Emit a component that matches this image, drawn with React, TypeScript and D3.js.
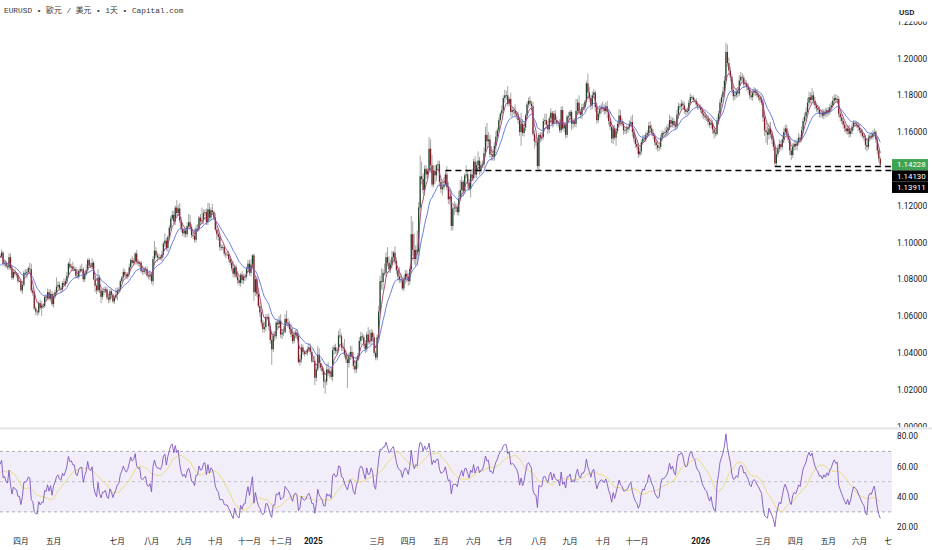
import React from "react";
import * as d3 from "d3";

// ---- DATA (EURUSD daily) ----
const firstOpen = 1.0850;
// closes, one line per month (weekdays)
const closes = [
  // 2024-01-29 .. 2024-03-08 (warm-up, left of the visible area)
  1.0835,1.0845,1.0820,1.0875,1.0790, 1.0745,1.0755,1.0770,1.0780,1.0785, 1.0770,1.0710,1.0730,1.0770,1.0775, 1.0780,1.0810,1.0820,1.0825,1.0820, 1.0850,1.0845,1.0840,1.0805,1.0840, 1.0855,1.0855,1.0900,1.0950,1.0940,
  // 2024-03 (from 11th)
  1.0925,1.0925,1.0945,1.0885,1.0890, 1.0870,1.0865,1.0920,1.0860,1.0808, 1.0840,1.0830,1.0825,1.0790,1.0790,
  // 2024-04
  1.0740,1.0770,1.0835,1.0835,1.0840, 1.0860,1.0855,1.0740,1.0725,1.0642, 1.0625,1.0620,1.0670,1.0645,1.0655, 1.0655,1.0705,1.0700,1.0730,1.0695, 1.0720,1.0665,
  // 2024-05
  1.0710,1.0730,1.0760, 1.0770,1.0750,1.0745,1.0780,1.0770, 1.0790,1.0820,1.0885,1.0865,1.0870, 1.0855,1.0855,1.0820,1.0815,1.0845, 1.0855,1.0855,1.0800,1.0830,1.0850,
  // 2024-06
  1.0905,1.0875,1.0870,1.0890,1.0800, 1.0765,1.0740,1.0810,1.0740,1.0705, 1.0735,1.0735,1.0745,1.0700,1.0690, 1.0735,1.0715,1.0680,1.0700,1.0715,
  // 2024-07
  1.0740,1.0745,1.0790,1.0810,1.0840, 1.0825,1.0815,1.0830,1.0865,1.0905, 1.0890,1.0900,1.0940,1.0895,1.0885, 1.0890,1.0845,1.0840,1.0850,1.0855, 1.0820,1.0815,1.0825,
  // 2024-08
  1.0790,1.0910, 1.0955,1.0930,1.0920,1.0920,1.0915, 1.0935,1.0995,1.1010,1.0970,1.1030, 1.1080,1.1130,1.1150,1.1115,1.1190, 1.1160,1.1185,1.1120,1.1075,1.1050,
  // 2024-09
  1.1065,1.1045,1.1090,1.1110,1.1085, 1.1040,1.1035,1.1015,1.1075,1.1075, 1.1135,1.1115,1.1120,1.1160,1.1165, 1.1110,1.1180,1.1135,1.1175,1.1165, 1.1135,
  // 2024-10
  1.1070,1.1045,1.1030,1.0975, 1.0975,1.0975,1.0940,1.0935,1.0935, 1.0910,1.0890,1.0860,1.0830,1.0865, 1.0815,1.0795,1.0780,1.0825,1.0795, 1.0815,1.0815,1.0855,1.0885,
  // 2024-11
  1.0835, 1.0880,1.0930,1.0730,1.0800,1.0720, 1.0655,1.0620,1.0565,1.0530,1.0540, 1.0595,1.0595,1.0545,1.0470,1.0420, 1.0495,1.0490,1.0565,1.0555,1.0575,
  // 2024-12
  1.0500,1.0510,1.0515,1.0585,1.0565, 1.0555,1.0530,1.0500,1.0465,1.0500, 1.0510,1.0490,1.0350,1.0365,1.0430, 1.0405,1.0395,1.0400,1.0420,1.0430, 1.0405,1.0355,
  // 2025-01
  1.0355,1.0265,1.0310, 1.0390,1.0345,1.0320,1.0300,1.0245, 1.0245,1.0310,1.0290,1.0300,1.0270, 1.0415,1.0430,1.0410,1.0415,1.0495, 1.0490,1.0430,1.0425,1.0390,1.0365,
  // 2025-02
  1.0345,1.0380,1.0405,1.0380,1.0330, 1.0310,1.0360,1.0385,1.0465,1.0490, 1.0485,1.0450,1.0420,1.0500,1.0460, 1.0465,1.0510,1.0485,1.0400,1.0375,
  // 2025-03
  1.0485,1.0625,1.0790,1.0785,1.0835, 1.0835,1.0920,1.0890,1.0855,1.0880, 1.0920,1.0945,1.0900,1.0850,1.0815, 1.0800,1.0795,1.0750,1.0800,1.0830, 1.0815,
  // 2025-04
  1.0790,1.0855,1.1045,1.0960, 1.0910,1.0960,1.0950,1.1190,1.1360, 1.1345,1.1285,1.1400,1.1370,1.1390, 1.1510,1.1420,1.1315,1.1390,1.1365, 1.1420,1.1425,1.1330,
  // 2025-05
  1.1290,1.1300, 1.1315,1.1370,1.1300,1.1235,1.1250, 1.1090,1.1185,1.1190,1.1190,1.1165, 1.1240,1.1285,1.1330,1.1280,1.1365, 1.1370,1.1325,1.1290,1.1370,1.1350,
  // 2025-06
  1.1440,1.1370,1.1420,1.1445,1.1395, 1.1420,1.1425,1.1485,1.1585,1.1550, 1.1560,1.1480,1.1480,1.1465,1.1525, 1.1575,1.1610,1.1665,1.1700,1.1720, 1.1785,
  // 2025-07
  1.1800,1.1800,1.1755,1.1780, 1.1710,1.1720,1.1715,1.1700,1.1690, 1.1665,1.1600,1.1645,1.1595,1.1625, 1.1690,1.1750,1.1770,1.1755,1.1740, 1.1590,1.1550,1.1545,1.1415,
  // 2025-08
  1.1585, 1.1570,1.1575,1.1660,1.1665,1.1640, 1.1615,1.1675,1.1705,1.1645,1.1700, 1.1665,1.1650,1.1650,1.1610,1.1720, 1.1620,1.1640,1.1585,1.1685,1.1685,
  // 2025-09
  1.1710,1.1645,1.1660,1.1645,1.1715, 1.1760,1.1710,1.1695,1.1735,1.1735, 1.1765,1.1865,1.1815,1.1785,1.1745, 1.1800,1.1815,1.1735,1.1665,1.1700, 1.1725,1.1735,
  // 2025-10
  1.1730,1.1715,1.1740, 1.1710,1.1660,1.1630,1.1565,1.1620, 1.1570,1.1605,1.1645,1.1690,1.1655, 1.1645,1.1610,1.1610,1.1615,1.1625, 1.1645,1.1655,1.1600,1.1565,1.1535,
  // 2025-11
  1.1520,1.1480,1.1495,1.1545,1.1565, 1.1560,1.1585,1.1595,1.1635,1.1620, 1.1595,1.1580,1.1545,1.1530,1.1515, 1.1520,1.1570,1.1595,1.1595,1.1600,
  // 2025-12
  1.1610,1.1625,1.1665,1.1645,1.1660, 1.1640,1.1630,1.1695,1.1740,1.1740, 1.1755,1.1745,1.1720,1.1710,1.1715, 1.1760,1.1790,1.1790,1.1775,1.1770, 1.1750,1.1740,1.1735,
  // 2026-01
  1.1720,1.1700, 1.1690,1.1680,1.1675,1.1655,1.1640, 1.1650,1.1615,1.1595,1.1590,1.1660, 1.1700,1.1760,1.1790,1.1820,1.1880, 1.2035,1.1975,1.1935,1.1900,1.1830,
  // 2026-02
  1.1795,1.1800,1.1820,1.1810,1.1880, 1.1900,1.1895,1.1860,1.1865,1.1845, 1.1830,1.1800,1.1790,1.1815,1.1825, 1.1815,1.1800,1.1790,1.1775,1.1760,
  // 2026-03
  1.1680,1.1610,1.1600,1.1585,1.1620, 1.1590,1.1560,1.1520,1.1430,1.1480, 1.1510,1.1535,1.1520,1.1560,1.1600, 1.1620,1.1590,1.1560,1.1500,1.1475, 1.1520,1.1535,
  // 2026-04
  1.1525,1.1545,1.1570, 1.1560,1.1610,1.1660,1.1685,1.1710, 1.1760,1.1790,1.1775,1.1800,1.1770, 1.1745,1.1730,1.1720,1.1700,1.1705, 1.1690,1.1710,1.1700,1.1720,
  // 2026-05
  1.1710, 1.1735,1.1745,1.1770,1.1785,1.1775, 1.1780,1.1700,1.1680,1.1660,1.1640, 1.1620,1.1605,1.1620,1.1590,1.1605, 1.1630,1.1650,1.1645,1.1640,1.1625,
  // 2026-06
  1.1610,1.1595,1.1580,1.1570,1.1530, 1.1520,1.1570,1.1580,1.1575,1.1590, 1.1600,1.1560,1.1500,1.1455,1.14228,
];

// upper wick above the body, in pips
const wickUp = [
  12,8,15,10,20, 9,12,8,10,7, 10,15,9,8,6, 8,10,12,14,9, 7,10,8,12,9, 11,10,14,13,15,
  10,12,18,8,10, 9,10,22,20,8, 12,15,9,10,5,
  15,10,12,20,15, 10,30,30,15,12, 12,10,10,20,25, 12,10,15,20,15, 25,15,
  15,12,50, 20,15,10,10,25, 15,20,10,30,12, 25,15,12,35,12, 20,30,12,15,30,
  10,12,15,25,10, 10,10,45,15,10, 10,25,15,12,15, 15,12,10,12,40,
  15,12,10,8,20, 15,12,10,20,10, 20,15,8,20,15, 10,10,30,15,15, 15,10,20,
  15,15, 53,20,15,20,12, 20,10,40,15,10, 15,15,25,20,12, 40,20,30,20,30,
  15,15,20,45,40, 15,20,40,20,25, 10,20,70,20,15, 20,35,34,15,35, 10,
  25,20,20,20, 15,12,15,15,15, 20,20,15,40,15, 15,20,15,10,20, 15,15,15,20,
  20, 30,7,10,5,15, 15,20,20,15,30, 15,15,20,15,45, 20,25,10,20,25,
  35,20,30,25,45, 25,20,30,35,20, 15,20,15,25,20, 15,10,5,15,25, 20,20,
  5,30,15, 47,35,20,15,20, 15,30,40,20,15, 20,15,20,15,25, 38,15,25,50,25,
  15,20,35,30,25, 20,20,15,20,25, 20,15,20,15,40, 60,20,15,20,10,
  15,30,30,70,20, 50,27,55,35,25, 35,10,35,20,15, 50,30,15,20,20, 20,
  20,15,99,70, 90,25,105,30,113, 80,30,20,20,15, 63,50,55,30,30, 5,20,20,
  15,30, 40,20,45,30,15, 30,15,35,25,20, 40,55,30,10,10, 50,20,20,15,30,
  15,30,20,50,20, 15,20,30,45,65, 40,25,45,30,20, 30,15,15,10,25, 15,
  30,25,50,10, 35,15,15,35,15, 20,15,60,25,35, 10,15,18,25,15, 25,20,30,25,
  10, 15,25,15,35,35, 20,15,25,10,15, 20,20,10,20,20, 20,15,15,10,25,
  10,10,15,15,65, 20,40,15,20,20, 10,15,53,30,15, 20,20,10,25,15, 20,20,
  30,20,20, 30,15,15,25,15, 20,20,15,35,30, 20,15,15,20,10, 20,30,40,20,20,
  20,20,20,15,20, 20,15,15,20,25, 20,20,15,15,20, 15,15,15,10,25,
  25,20,30,20,20, 15,20,25,20,15, 20,15,20,15,20, 15,20,10,10,10, 15,15,10,
  15,15, 15,20,15,15,20, 25,15,15,20,20, 15,20,15,25,25, 50,40,30,20,15,
  20,25,20,25,30, 27,20,15,20,15, 20,15,20,15,20, 15,20,15,15,20,
  20,20,40,35,30, 35,20,15,15,25, 20,25,20,20,25, 20,20,15,20,15, 20,20,
  20,20,25, 15,20,20,20,25, 25,30,25,40,20, 20,15,20,20,15, 20,15,20,15,
  15, 20,20,25,20,20, 20,15,15,20,15, 15,20,15,20,15, 20,15,15,15,15,
  20,15,20,15,15, 20,15,15,20,20, 20,10,15,15,12,
];

// lower wick below the body, in pips
const wickDown = [
  10,12,9,14,18, 12,7,10,9,11, 8,20,14,9,10, 9,8,10,12,15, 10,9,11,14,13, 9,12,8,10,12,
  12,9,10,15,12, 10,12,14,8,12, 9,10,15,12,6,
  10,20,10,15,30, 12,12,14,15,10, 20,19,12,12,45, 15,10,20,14,10, 15,10,
  20,15,15, 12,10,20,15,10, 10,15,12,10,20, 10,12,15,10,15, 12,10,15,15,12,
  15,10,10,15,5, 35,20,10,15,35, 15,20,10,12,20, 15,20,10,15,10,
  30,15,12,10,12, 15,10,15,15,15, 10,15,20,15,15, 20,10,15,15,20, 10,15,20,
  15,25, 25,15,25,15,10, 15,15,20,15,20, 10,15,10,15,20, 15,15,15,20,15,
  20,20,15,15,20, 15,15,15,15,15, 15,20,15,20,15, 15,15,15,20,15, 15,
  10,30,20,20, 20,15,15,20,10, 15,15,15,20,20, 10,20,15,20,20, 20,25,15,15,
  15, 20,20,47,20,15, 10,25,20,20,20, 20,20,25,20,85, 15,25,15,20,15,
  20,25,20,10,15, 20,20,15,15,15, 20,15,7,20,20, 15,15,5,15,15, 15,10,
  5,40,20, 10,25,15,20,35, 67,20,15,25,15, 25,25,15,20,15, 10,20,15,15,20,
  135,25,20,15,20, 20,20,45,15,20, 15,20,20,15,15, 15,20,25,15,15,
  15,10,10,40,45, 15,20,20,20,20, 20,20,20,20,20, 20,15,10,15,25, 30,
  25,20,20,35, 30,40,75,25,15, 30,20,30,25,20, 10,40,15,15,45, 30,15,25,
  20,35, 15,10,15,25,30, 25,25,35,25,15, 20,15,20,30,15, 15,30,10,45,15,
  15,20,20,20,30, 20,15,20,20,35, 20,20,35,20,20, 50,20,15,15,20, 15,
  25,25,15,15, 25,30,20,20,20, 20,20,75,15,20, 20,20,20,15,20, 10,40,20,15,
  24, 25,20,15,20,20, 25,20,15,20,15, 20,15,25,15,15, 10,20,20,15,30,
  15,35,25,15,20, 20,15,20,25,15, 20,15,40,20,25, 20,15,25,20,15, 20,25,
  20,20,15, 35,20,20,25,30, 15,45,15,20,20, 15,25,20,20,20, 15,15,25,20,20,
  15,20,12,20,15, 15,15,15,20,20, 15,20,20,25,20, 20,15,20,15,15,
  20,20,15,20,20, 20,20,15,20,20, 20,15,20,20,15, 15,15,15,15,10, 15,20,10,
  15,20, 20,15,15,20,15, 20,25,30,15,10, 20,15,20,20,15, 20,20,25,25,20,
  25,20,15,20,15, 20,20,20,15,20, 20,20,15,20,15, 20,15,20,15,15,
  25,30,60,55,25, 20,25,20,17,20, 15,20,20,15,20, 15,20,20,25,27, 15,20,
  20,25,15, 20,15,20,15,20, 15,20,20,15,20, 20,20,15,20,20, 15,20,15,20,
  20, 15,20,15,20,15, 20,20,20,15,20, 20,15,20,20,15, 15,20,15,15,20,
  15,20,15,20,25, 25,15,20,15,15, 15,20,20,20,8,
];

const priceTicks = [1.22, 1.2, 1.18, 1.16, 1.14, 1.12, 1.1, 1.08, 1.06, 1.04, 1.02, 1.0];
const rsiTicks = [80, 60, 40, 20];
const rsiBands = [70, 50, 30];
const monthNames = ["一月","二月","三月","四月","五月","六月","七月","八月","九月","十月","十一月","十二月"];
// months labelled on the time axis [year, month]
const tickMonths: [number, number][] = [
  [2024,4],[2024,5],[2024,7],[2024,8],[2024,9],[2024,10],[2024,11],[2024,12],
  [2025,1],[2025,3],[2025,4],[2025,5],[2025,6],[2025,7],[2025,8],[2025,9],[2025,10],[2025,11],
  [2026,1],[2026,3],[2026,4],[2026,5],[2026,6],[2026,7],
];
// user drawn horizontal levels [price, start date]
const levels: [number, [number, number, number]][] = [
  [1.13911, [2025, 5, 6]],
  [1.14130, [2026, 3, 12]],
];
const lastPrice = 1.14228;

const emaFast = 5;
const emaSlow = 15;
const rsiLen = 14;
const rsiMaLen = 14;

function ema(vals: number[], n: number) {
  const a = 2 / (n + 1);
  const out: number[] = [];
  vals.forEach((v, i) => out.push(i === 0 ? v : a * v + (1 - a) * out[i - 1]));
  return out;
}

function rsiCalc(vals: number[], n: number) {
  const out: (number | null)[] = vals.map(() => null);
  let ag = 0, al = 0;
  for (let i = 1; i < vals.length; i++) {
    const ch = vals[i] - vals[i - 1];
    const g = Math.max(ch, 0), l = Math.max(-ch, 0);
    if (i <= n) {
      ag += g / n; al += l / n;
      if (i === n) out[i] = al === 0 ? 100 : 100 - 100 / (1 + ag / al);
    } else {
      ag = (ag * (n - 1) + g) / n;
      al = (al * (n - 1) + l) / n;
      out[i] = al === 0 ? 100 : 100 - 100 / (1 + ag / al);
    }
  }
  return out;
}

export default function App() {
  const W = 932, H = 550;
  const plotR = 892;
  const FONT = "Roboto, 'Noto Sans', 'Noto Sans CJK TC', sans-serif";
  const AX = 8.3;

  const start = new Date(2024, 0, 29);
  const days = d3.timeDay.range(start, new Date(2026, 7, 1)).filter((d) => d.getDay() !== 0 && d.getDay() !== 6);
  const idxOf = (d: Date) => days.findIndex((x) => x >= d);
  const firstOfMonth = (y: number, m: number) => days.findIndex((x) => x.getFullYear() === y && x.getMonth() === m - 1);

  const x = d3.scaleLinear()
    .domain([idxOf(new Date(2025, 0, 1)), idxOf(new Date(2026, 0, 1))])
    .range([313.3, 700.7]);
  const y = d3.scaleLinear().domain([1.0, 1.2]).range([426.5, 58.5]);
  const yr = d3.scaleLinear().domain([20, 80]).range([527, 436.3]);

  const bars = closes.map((c, i) => {
    const o = i === 0 ? firstOpen : closes[i - 1];
    const h = Math.max(o, c) + (wickUp[i] ?? 15) / 10000;
    const l = Math.min(o, c) - (wickDown[i] ?? 15) / 10000;
    return { i, o, h, l, c };
  });

  const fast = ema(closes, emaFast);
  const slow = ema(closes, emaSlow);
  const rsi = rsiCalc(closes, rsiLen);
  const rsiMa = rsi.map((_, i) => {
    if (i < rsiLen + rsiMaLen - 1) return null;
    const s = rsi.slice(i - rsiMaLen + 1, i + 1) as number[];
    return d3.mean(s) as number;
  });

  const lineP = d3.line<number>().x((_, i) => x(i)).y((v) => y(v)).curve(d3.curveLinear);
  const lineR = d3.line<number | null>()
    .defined((v) => v !== null)
    .x((_, i) => x(i))
    .y((v) => yr(v as number));

  const upCol = "#21462c";
  const dnCol = "#801a22";
  const bw = 1.25;

  const lastY = y(lastPrice);
  const step = 11.3;
  // the price-label stack hides axis ticks that fall behind it
  const stackTop = lastY - step / 2 - 4;
  const stackBot = lastY + step / 2 + levels.length * step + 4;
  const visibleTicks = priceTicks.filter((v) => y(v) < stackTop || y(v) > stackBot);

  return (
    <svg
      width={W}
      height={H}
      viewBox={`0 0 ${W} ${H}`}
      style={{ position: "fixed", left: 0, top: 0, background: "#fff", fontFamily: FONT }}
    >
      <defs>
        <clipPath id="pclip"><rect x={0} y={0} width={plotR} height={427} /></clipPath>
        <clipPath id="rclip"><rect x={0} y={430} width={plotR} height={103} /></clipPath>
        <clipPath id="aclip"><rect x={plotR} y={21.5} width={W - plotR} height={405.5} /></clipPath>
      </defs>
      <rect x={0} y={0} width={W} height={H} fill="#fff" />

      {/* price pane */}
      <g clipPath="url(#pclip)">
        {bars.map((b) => (
          <line key={"w" + b.i} x1={x(b.i)} x2={x(b.i)} y1={y(b.h)} y2={y(b.l)} stroke="#9c9c9c" strokeWidth={0.9} />
        ))}
        {bars.map((b) => {
          const top = y(Math.max(b.o, b.c));
          const hgt = Math.max(0.8, y(Math.min(b.o, b.c)) - top);
          return (
            <rect key={"b" + b.i} x={x(b.i) - bw / 2} y={top} width={bw} height={hgt} fill={b.c >= b.o ? upCol : dnCol} />
          );
        })}
        <path d={lineP(slow) || ""} fill="none" stroke="#5b6fdc" strokeWidth={0.9} />
        <path d={lineP(fast) || ""} fill="none" stroke="#a33f70" strokeWidth={0.9} />
        {levels.map(([v, d], k) => (
          <line key={"lv" + k} x1={x(idxOf(new Date(d[0], d[1] - 1, d[2])))} x2={plotR} y1={y(v)} y2={y(v)}
            stroke="#000" strokeWidth={1.4} strokeDasharray="6,4" />
        ))}
      </g>

      {/* title */}
      <text x={4} y={13} fontSize={7.8} fill="#3b3b3b" fontFamily="'Liberation Mono', 'Noto Sans CJK TC', monospace">
        EURUSD • 歐元 / 美元 • 1天 • Capital.com
      </text>

      {/* pane separator */}
      <rect x={0} y={427.2} width={W} height={2.4} fill="#e6e7ea" />

      {/* RSI pane */}
      <rect x={0} y={yr(70)} width={plotR} height={yr(30) - yr(70)} fill="#7e57c2" fillOpacity={0.1} />
      {rsiBands.map((v) => (
        <line key={"rb" + v} x1={0} x2={plotR} y1={yr(v)} y2={yr(v)} stroke="#8a8d96" strokeWidth={0.8} strokeDasharray="3,3" strokeOpacity={v === 50 ? 0.6 : 0.9} />
      ))}
      <g clipPath="url(#rclip)">
        <path d={lineR(rsiMa) || ""} fill="none" stroke="#eadc7e" strokeWidth={1} />
        <path d={lineR(rsi) || ""} fill="none" stroke="#7e57c2" strokeWidth={0.9} />
      </g>

      {/* time axis */}
      {tickMonths.map(([yy, mm]) => {
        const idx = firstOfMonth(yy, mm);
        const xx = x(idx);
        const isYear = mm === 1;
        return (
          <text key={`t${yy}-${mm}`} x={xx} y={541} textAnchor="middle" dominantBaseline="central"
            fontSize={isYear ? 8.2 : 7.6} fontWeight={isYear ? 700 : 400} fill="#131722">
            {isYear ? String(yy) : monthNames[mm - 1]}
          </text>
        );
      })}

      {/* price axis area */}
      <rect x={plotR} y={0} width={W - plotR} height={H} fill="#fff" />
      <rect x={plotR} y={427.2} width={W - plotR} height={2.4} fill="#e6e7ea" />
      <text x={899} y={12} fontSize={8} fontWeight={600} fill="#131722" dominantBaseline="central">USD</text>
      <g clipPath="url(#aclip)">
        {visibleTicks.map((v) => (
          <text key={"p" + v} x={897} y={y(v)} fontSize={AX} fill="#131722" dominantBaseline="central">
            {d3.format(".5f")(v)}
          </text>
        ))}
      </g>
      {rsiTicks.map((v) => (
        <text key={"r" + v} x={897} y={yr(v)} fontSize={AX} fill="#131722" dominantBaseline="central">
          {d3.format(".2f")(v)}
        </text>
      ))}

      {/* price labels */}
      <rect x={plotR} y={lastY - step / 2} width={36} height={step} fill="#3fa452" />
      <text x={897} y={lastY} fontSize={7.9} fill="#fff" dominantBaseline="central">{d3.format(".5f")(lastPrice)}</text>
      {levels.slice().reverse().map(([v], k) => (
        <g key={"ll" + k}>
          <rect x={plotR} y={lastY + step / 2 + k * step} width={36} height={step} fill="#000" />
          <text x={897} y={lastY + step * (k + 1)} fontSize={7.9} fill="#fff" dominantBaseline="central">{d3.format(".5f")(v)}</text>
        </g>
      ))}
    </svg>
  );
}
